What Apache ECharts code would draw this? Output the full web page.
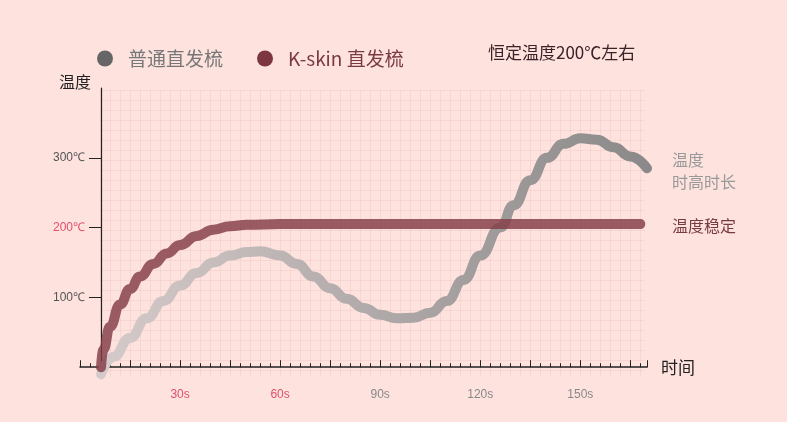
<!DOCTYPE html>
<html><head><meta charset="utf-8">
<script src="https://cdn.jsdelivr.net/npm/echarts@6/dist/echarts.min.js"></script>
<style>
html,body{margin:0;padding:0;background:#fde2de;}
#bg{position:absolute;left:100px;top:90px;width:545px;height:287px;
background-image:linear-gradient(rgba(225,160,160,0.18) 1px,transparent 1px),linear-gradient(90deg,rgba(225,160,160,0.18) 1px,transparent 1px);
background-size:10px 10px;}
#c{position:absolute;left:0;top:0;width:787px;height:422px;}
</style></head><body>
<div id="bg"></div><div id="c"></div>
<script>
const normalT = [6.3,10,15,20,25,30,35,40,45,50,54,60,65,70,75,80,85,90,95,100,105,110,115,120,126,130,135,140,145,150,155,160,165,170];
const normalV = [-10,15,42,70,95,117,135,150,160,165,166,160,148,130,113,98,85,75,70,71,78,95,125,160,200,232,268,300,320,328,326,315,302,285];
const kskinT = [6.3,7,9,12,15,18,22,26,30,35,40,45,50,60,100,168];
const kskinV = [0,25,58,90,112,130,148,163,175,188,197,202,204,205,205,205];
const yTicks = [100,200,300];
const xLabels = [30,60,90,120,150];

const chart = echarts.init(document.getElementById('c'));
chart.setOption({
  animation:false,
  grid:{left:80,right:140,top:88,bottom:45},
  legend:{left:92,top:44,itemWidth:16,itemHeight:16,itemGap:34,icon:'circle',
    textStyle:{fontSize:19,color:'#777',fontFamily:'Noto Sans CJK SC',padding:[0,0,0,10]},
    data:[{name:'普通直发梳',textStyle:{color:'#777'}},{name:'K-skin 直发梳',textStyle:{color:'#7a3a42'}}]},
  xAxis:{type:'value',min:0,max:170,interval:15,
    name:'时间',nameGap:14,nameTextStyle:{fontSize:17,color:'#222',fontFamily:'Noto Sans CJK SC'},
    axisLine:{lineStyle:{color:'#222',width:1.5}},
    axisTick:{show:true,length:7,inside:true,lineStyle:{color:'#222'}},
    minorTick:{show:true,splitNumber:5,length:4,lineStyle:{color:'#222'}},
    splitLine:{show:false},
    axisLabel:{margin:12,fontSize:12,
      formatter:v=>xLabels.includes(v)?'{'+(v<=60?'a':'b')+'|'+v+'s}':'',
      rich:{a:{color:'#e0506a',fontSize:12},b:{color:'#888',fontSize:12}}}},
  yAxis:{type:'value',min:-14,max:400,offset:-21,
    name:'温度',nameLocation:'end',nameGap:-2,
    nameTextStyle:{fontSize:16,color:'#222',fontFamily:'Noto Sans CJK SC',align:'right',padding:[0,10,0,0]},
    axisLine:{show:true,lineStyle:{color:'#222',width:1.2}},
    axisTick:{show:true,length:12,customValues:yTicks,lineStyle:{color:'#222'}},
    splitLine:{show:false},
    axisLabel:{customValues:yTicks,margin:16,fontSize:12,
      formatter:v=>v===200?'{r|'+v+'℃}':'{g|'+v+'℃}',
      rich:{r:{color:'#e0506a',fontSize:12},g:{color:'#555',fontSize:12}}}},
  series:[
    {name:'普通直发梳',type:'line',smooth:true,smoothMonotone:'x',showSymbol:false,itemStyle:{color:'#666'},
     data:normalT.map((t,i)=>[t,normalV[i]]),
     lineStyle:{width:10,cap:'round',color:{type:'linear',x:0,y:0,x2:1,y2:0,colorStops:[{offset:0,color:'#d6cbcb'},{offset:0.4,color:'#b8b0b0'},{offset:1,color:'#8a8888'}]}}},
    {name:'K-skin 直发梳',type:'line',smooth:true,smoothMonotone:'x',showSymbol:false,itemStyle:{color:'#7d3540'},
     data:kskinT.map((t,i)=>[t,kskinV[i]]),
     lineStyle:{width:10,cap:'round',color:'rgba(130,60,70,0.82)'}}
  ],
  graphic:[
    {type:'text',left:488,top:44,style:{text:'恒定温度200℃左右',fontSize:17,fill:'#3a2228',fontFamily:'Noto Sans CJK SC'}},
    {type:'text',left:672,top:149,style:{text:'温度\n时高时长',fontSize:16,lineHeight:22,fill:'#999',fontFamily:'Noto Sans CJK SC'}},
    {type:'text',left:672,top:218,style:{text:'温度稳定',fontSize:16,fill:'#7a3a42',fontFamily:'Noto Sans CJK SC'}}
  ]
});
</script></body></html>
